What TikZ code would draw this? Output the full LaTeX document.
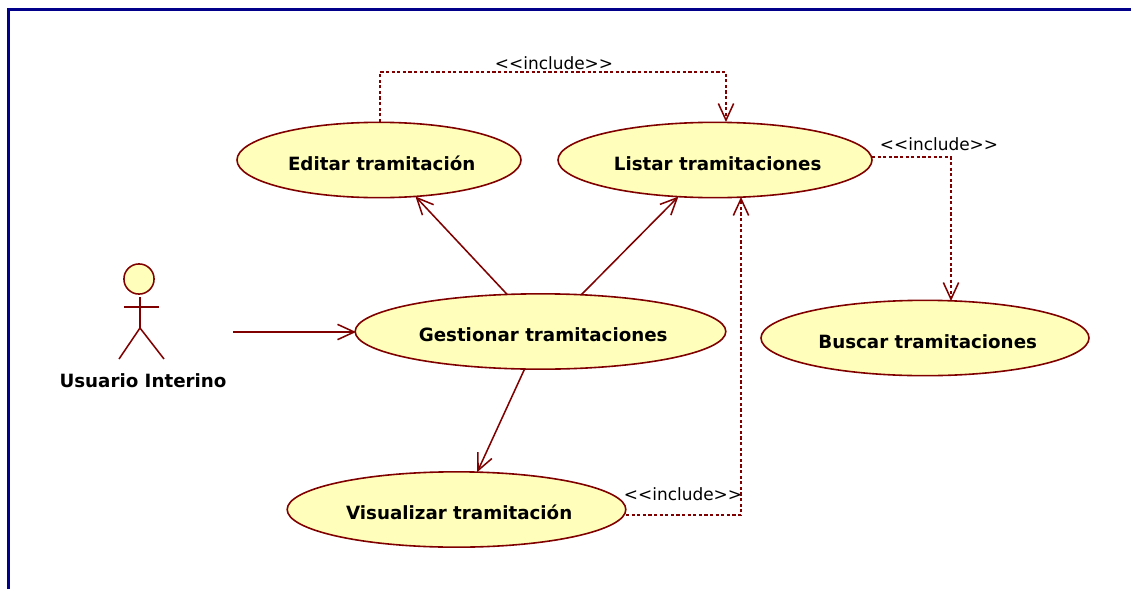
\documentclass[tikz,border=0pt]{standalone}
\usepackage{fontspec}
\setmainfont{DejaVu Sans}
\usepackage{xcolor}
\definecolor{granate}{RGB}{128, 0, 0}
\definecolor{crema}{RGB}{255, 255, 187}
\definecolor{marino}{RGB}{0, 0, 139}
\usetikzlibrary{shapes.geometric, arrows.meta}
\newcommand{\rotulo}[1]{\raisebox{-7.5pt}[0pt][0pt]{\hspace{4pt}#1}}
\tikzset{
    casouso/.style={ellipse, draw=granate, fill=crema, line width=1.2pt, inner sep=0pt, outer sep=0pt, minimum height=56.5pt, font=\fontsize{13.7}{16}\selectfont\bfseries},
    flecha/.style={draw=granate, line width=1.15pt, -{Straight Barb[length=12.5pt,width=11.5pt]}},
    incluye/.style={flecha, dash pattern=on 2.4pt off 1.8pt},
    etiqueta/.style={inner sep=0pt, font=\fontsize{12.7}{15}\selectfont},
    figura/.style={draw=granate, line width=1.15pt}
}
\begin{document}
\begin{tikzpicture}[x=0.75pt, y=-0.75pt]
        \useasboundingbox (0,0) rectangle (1131,589);
        % Marco del diagrama
        \draw[marino, line width=2.4pt] (8.5,589) -- (8.5,9.5) -- (1131,9.5);
        % Casos de uso
        \node[casouso, minimum width=213pt] (editar) at (379,160) {\rotulo{Editar tramitación}};
        \node[casouso, minimum width=235.5pt] (listar) at (715,160) {\rotulo{Listar tramitaciones}};
        \node[casouso, minimum width=278pt] (gestionar) at (540.5,331.5) {\rotulo{Gestionar tramitaciones}};
        \node[casouso, minimum width=246pt] (buscar) at (925,338) {\rotulo{Buscar tramitaciones}};
        \node[casouso, minimum width=254pt] (visualizar) at (456.5,509.5) {\rotulo{Visualizar tramitación}};
        % Actor
        \draw[figura, fill=crema] (139,279) circle (11.3pt);
        \draw[figura] (140,297) -- (140,328) -- (119,359);
        \draw[figura] (140,328) -- (164,359);
        \draw[figura] (124,307) -- (159,307);
        \node[font=\fontsize{13.7}{16}\selectfont\bfseries, inner sep=0pt] (usuario) at (143,381) {Usuario Interino};
        \coordinate (salida) at (233,332);
        \coordinate (entrada) at (356,332);
        \draw[flecha] (salida) -- (entrada);
        % Asociaciones desde el caso principal
        \foreach \destino/\desde/\hasta in {editar/132.6/315.7, listar/42.1/225.8, visualizar/247.3/61.3} {
            \draw[flecha] (gestionar.\desde) -- (\destino.\hasta);
        }
        % Dependencias
        \coordinate (codo1) at (380,72);
        \coordinate (editarTop) at (380,122);
        \coordinate (listarTop) at (726,122);
        \coordinate (listarDer) at (872,157);
        \coordinate (buscarTop) at (951,301);
        \coordinate (visualDer) at (626,515);
        \coordinate (listarBase) at (741,197);
        \draw[incluye] (editarTop) -- (codo1) -| (listarTop);
        \draw[incluye] (listarDer) -| (buscarTop);
        \draw[incluye] (visualDer) -| (listarBase);
        \node[etiqueta] (inc1) at (554,63) {{<}{<}include{>}{>}};
        \node[etiqueta] (inc2) at (939,144) {{<}{<}include{>}{>}};
        \node[etiqueta] (inc3) at (683,494) {{<}{<}include{>}{>}};
    \end{tikzpicture}
\end{document}
